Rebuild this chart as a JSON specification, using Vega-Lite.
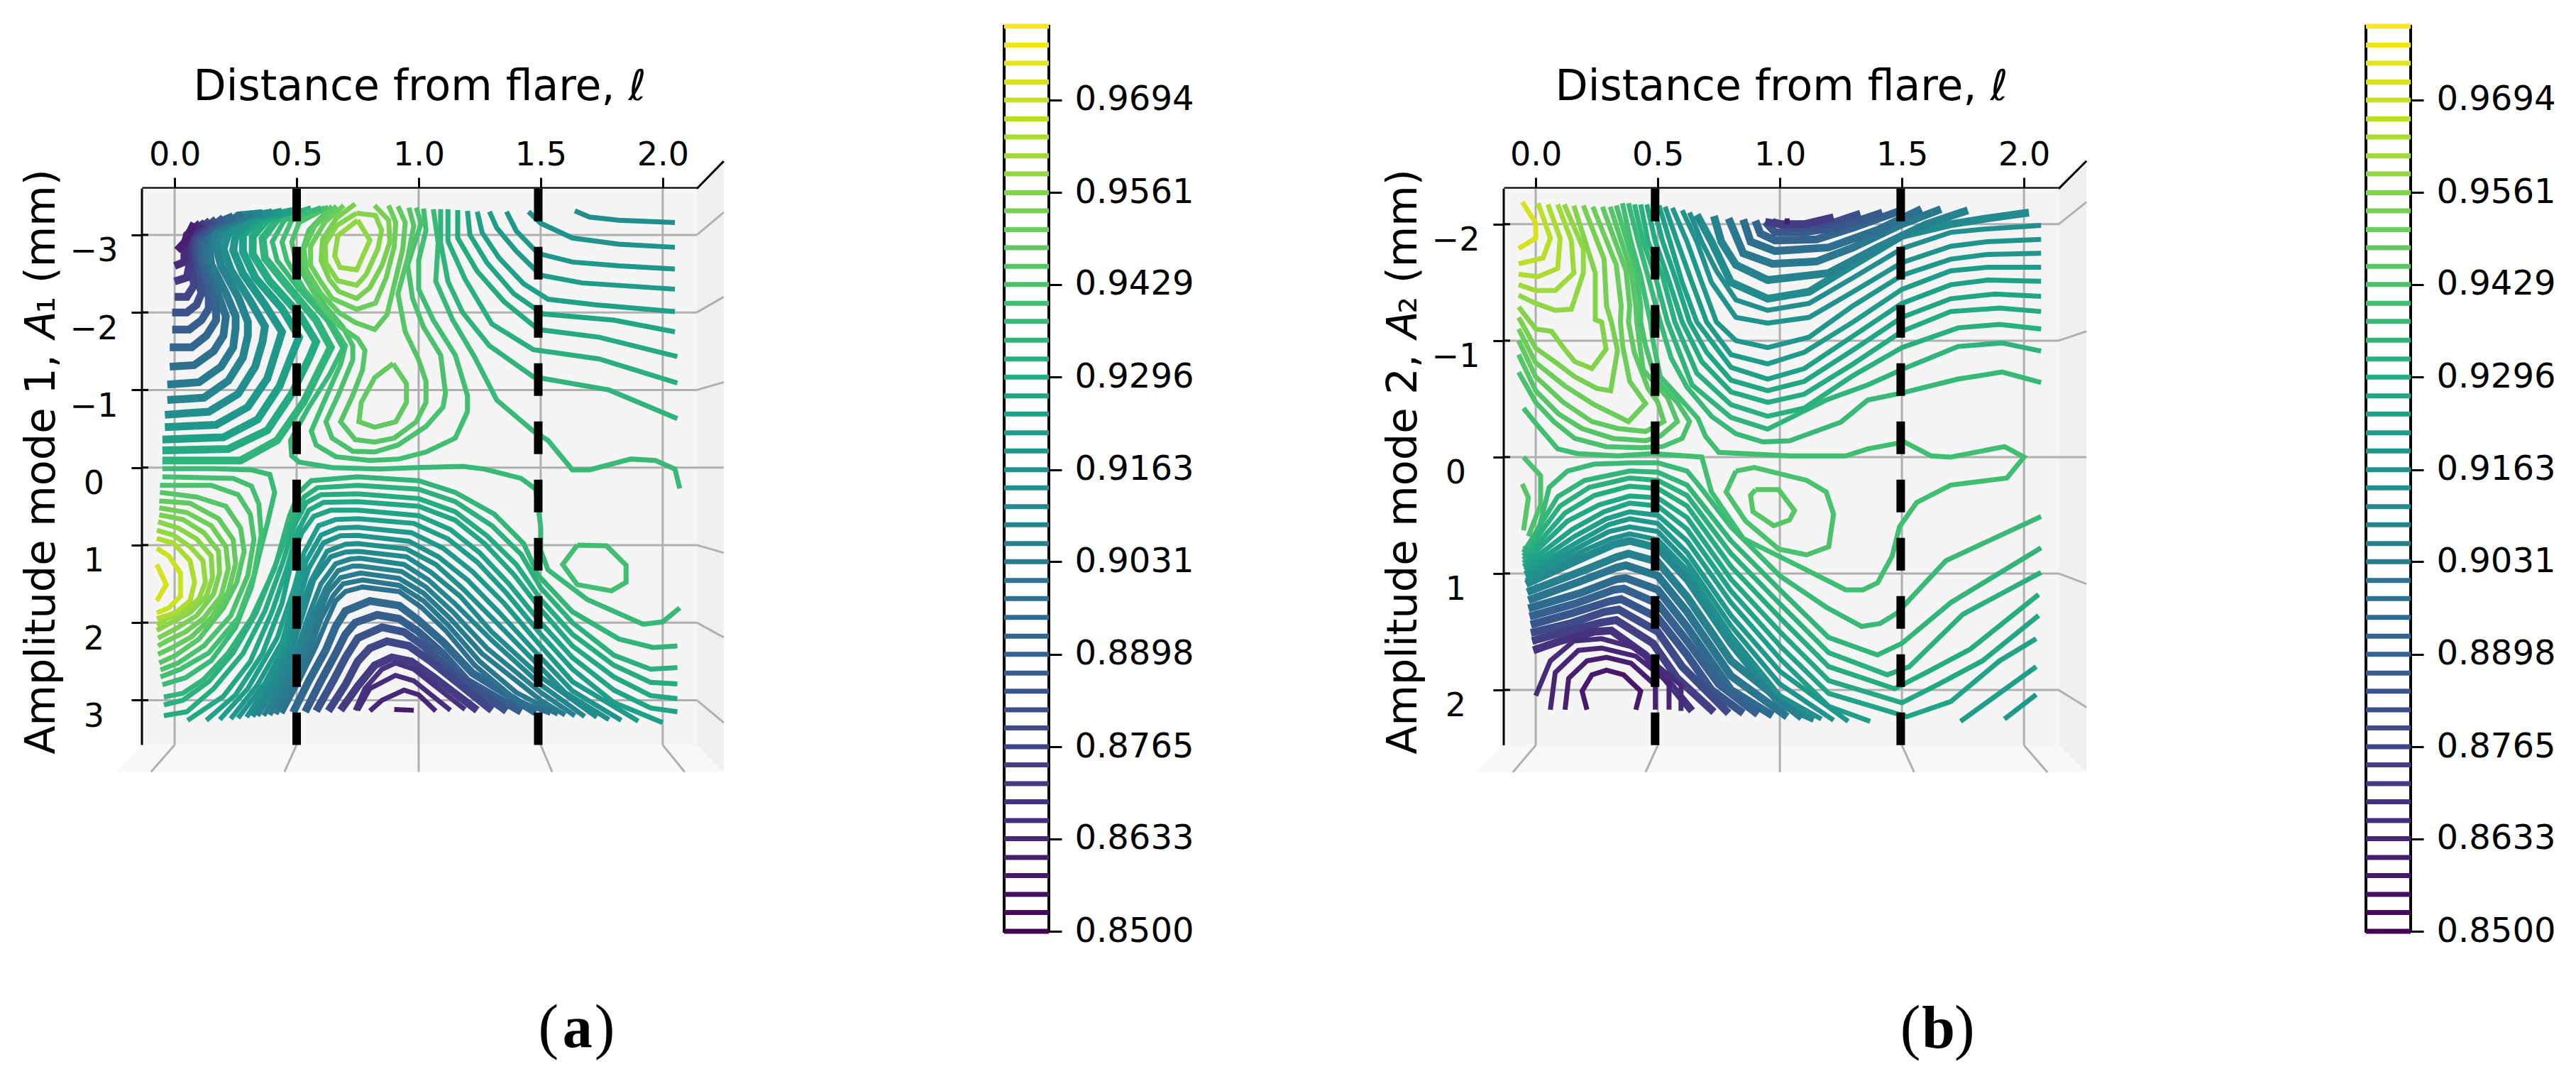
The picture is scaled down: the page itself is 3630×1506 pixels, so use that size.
{"$schema":"https://vega.github.io/schema/vega-lite/v6.json","background":"white","padding":{"left":29,"top":31,"right":0,"bottom":0},"bounds":"flush","spacing":0,"resolve":{"scale":{"color":"independent"}},
"config":{"view":{"stroke":null},"font":"DejaVu Sans","axis":{"grid":false,"labelFont":"DejaVu Sans","titleFont":"DejaVu Sans","labelColor":"black","titleColor":"black","domainColor":"black","tickColor":"black"}},
"datasets":{"levels":[{"l":0.85},{"l":0.8527},{"l":0.8553},{"l":0.858},{"l":0.8606},{"l":0.8633},{"l":0.8659},{"l":0.8686},{"l":0.8712},{"l":0.8739},{"l":0.8765},{"l":0.8792},{"l":0.8818},{"l":0.8845},{"l":0.8871},{"l":0.8898},{"l":0.8924},{"l":0.8951},{"l":0.8978},{"l":0.9004},{"l":0.9031},{"l":0.9057},{"l":0.9084},{"l":0.911},{"l":0.9137},{"l":0.9163},{"l":0.919},{"l":0.9216},{"l":0.9243},{"l":0.9269},{"l":0.9296},{"l":0.9322},{"l":0.9349},{"l":0.9376},{"l":0.9402},{"l":0.9429},{"l":0.9455},{"l":0.9482},{"l":0.9508},{"l":0.9535},{"l":0.9561},{"l":0.9588},{"l":0.9614},{"l":0.9641},{"l":0.9667},{"l":0.9694},{"l":0.972},{"l":0.9747},{"l":0.9773},{"l":0.98}],
"aThick":[
{"i":32,"x":-0.05,"y":-0.09},{"i":32,"x":0.27,"y":-0.09},{"i":32,"x":0.42,"y":-0.35},{"i":32,"x":0.53,"y":-0.85},{"i":32,"x":0.6,"y":-1.3},{"i":32,"x":0.64,"y":-1.55},{"i":32,"x":0.58,"y":-1.9},{"i":32,"x":0.46,"y":-2.35},{"i":32,"x":0.37,"y":-2.7},{"i":32,"x":0.36,"y":-2.95},{"i":32,"x":0.42,"y":-3.2},{"i":32,"x":0.56,"y":-3.33},
{"i":30,"x":-0.05,"y":-0.22},{"i":30,"x":0.22,"y":-0.24},{"i":30,"x":0.38,"y":-0.48},{"i":30,"x":0.48,"y":-0.95},{"i":30,"x":0.55,"y":-1.4},{"i":30,"x":0.58,"y":-1.62},{"i":30,"x":0.51,"y":-1.98},{"i":30,"x":0.39,"y":-2.4},{"i":30,"x":0.32,"y":-2.75},{"i":30,"x":0.32,"y":-2.98},{"i":30,"x":0.38,"y":-3.2},{"i":30,"x":0.52,"y":-3.32},
{"i":28,"x":-0.05,"y":-0.36},{"i":28,"x":0.2,"y":-0.39},{"i":28,"x":0.34,"y":-0.62},{"i":28,"x":0.43,"y":-1.05},{"i":28,"x":0.48,"y":-1.45},{"i":28,"x":0.51,"y":-1.68},{"i":28,"x":0.44,"y":-2.05},{"i":28,"x":0.33,"y":-2.45},{"i":28,"x":0.28,"y":-2.78},{"i":28,"x":0.28,"y":-3.0},{"i":28,"x":0.35,"y":-3.22},{"i":28,"x":0.485,"y":-3.31},
{"i":26,"x":-0.04,"y":-0.52},{"i":26,"x":0.17,"y":-0.55},{"i":26,"x":0.3,"y":-0.78},{"i":26,"x":0.38,"y":-1.15},{"i":26,"x":0.42,"y":-1.55},{"i":26,"x":0.44,"y":-1.75},{"i":26,"x":0.37,"y":-2.1},{"i":26,"x":0.28,"y":-2.5},{"i":26,"x":0.24,"y":-2.8},{"i":26,"x":0.25,"y":-3.0},{"i":26,"x":0.32,"y":-3.22},{"i":26,"x":0.44,"y":-3.3},
{"i":24,"x":-0.04,"y":-0.68},{"i":24,"x":0.14,"y":-0.72},{"i":24,"x":0.26,"y":-0.95},{"i":24,"x":0.33,"y":-1.3},{"i":24,"x":0.36,"y":-1.62},{"i":24,"x":0.37,"y":-1.82},{"i":24,"x":0.31,"y":-2.15},{"i":24,"x":0.23,"y":-2.55},{"i":24,"x":0.2,"y":-2.82},{"i":24,"x":0.22,"y":-3.02},{"i":24,"x":0.29,"y":-3.23},{"i":24,"x":0.4,"y":-3.29},
{"i":22,"x":-0.03,"y":-0.87},{"i":22,"x":0.12,"y":-0.9},{"i":22,"x":0.22,"y":-1.12},{"i":22,"x":0.28,"y":-1.42},{"i":22,"x":0.3,"y":-1.7},{"i":22,"x":0.3,"y":-1.88},{"i":22,"x":0.26,"y":-2.2},{"i":22,"x":0.19,"y":-2.6},{"i":22,"x":0.17,"y":-2.85},{"i":22,"x":0.19,"y":-3.05},{"i":22,"x":0.26,"y":-3.25},{"i":22,"x":0.36,"y":-3.28},
{"i":20,"x":-0.03,"y":-1.07},{"i":20,"x":0.1,"y":-1.1},{"i":20,"x":0.19,"y":-1.3},{"i":20,"x":0.24,"y":-1.55},{"i":20,"x":0.25,"y":-1.8},{"i":20,"x":0.25,"y":-1.95},{"i":20,"x":0.21,"y":-2.25},{"i":20,"x":0.15,"y":-2.62},{"i":20,"x":0.14,"y":-2.88},{"i":20,"x":0.17,"y":-3.08},{"i":20,"x":0.32,"y":-3.27},
{"i":18,"x":-0.02,"y":-1.3},{"i":18,"x":0.08,"y":-1.32},{"i":18,"x":0.16,"y":-1.5},{"i":18,"x":0.2,"y":-1.7},{"i":18,"x":0.21,"y":-1.95},{"i":18,"x":0.17,"y":-2.3},{"i":18,"x":0.12,"y":-2.65},{"i":18,"x":0.12,"y":-2.9},{"i":18,"x":0.15,"y":-3.1},{"i":18,"x":0.28,"y":-3.26},
{"i":16,"x":-0.02,"y":-1.55},{"i":16,"x":0.07,"y":-1.55},{"i":16,"x":0.13,"y":-1.7},{"i":16,"x":0.17,"y":-1.9},{"i":16,"x":0.17,"y":-2.1},{"i":16,"x":0.14,"y":-2.35},{"i":16,"x":0.1,"y":-2.68},{"i":16,"x":0.1,"y":-2.92},{"i":16,"x":0.13,"y":-3.1},{"i":16,"x":0.24,"y":-3.24},
{"i":14,"x":-0.01,"y":-1.78},{"i":14,"x":0.06,"y":-1.78},{"i":14,"x":0.11,"y":-1.9},{"i":14,"x":0.14,"y":-2.05},{"i":14,"x":0.14,"y":-2.2},{"i":14,"x":0.11,"y":-2.45},{"i":14,"x":0.08,"y":-2.72},{"i":14,"x":0.09,"y":-2.95},{"i":14,"x":0.2,"y":-3.22},
{"i":12,"x":-0.01,"y":-2.0},{"i":12,"x":0.05,"y":-2.0},{"i":12,"x":0.09,"y":-2.1},{"i":12,"x":0.11,"y":-2.25},{"i":12,"x":0.09,"y":-2.5},{"i":12,"x":0.07,"y":-2.75},{"i":12,"x":0.08,"y":-2.97},{"i":12,"x":0.17,"y":-3.2},
{"i":10,"x":0,"y":-2.2},{"i":10,"x":0.05,"y":-2.2},{"i":10,"x":0.08,"y":-2.35},{"i":10,"x":0.07,"y":-2.55},{"i":10,"x":0.06,"y":-2.78},{"i":10,"x":0.07,"y":-3.0},{"i":10,"x":0.145,"y":-3.18},
{"i":8,"x":0,"y":-2.4},{"i":8,"x":0.05,"y":-2.45},{"i":8,"x":0.06,"y":-2.6},{"i":8,"x":0.05,"y":-2.82},{"i":8,"x":0.06,"y":-3.0},{"i":8,"x":0.125,"y":-3.16},
{"i":6,"x":0,"y":-2.6},{"i":6,"x":0.04,"y":-2.65},{"i":6,"x":0.04,"y":-2.85},{"i":6,"x":0.05,"y":-3.0},{"i":6,"x":0.105,"y":-3.15},
{"i":4,"x":0.01,"y":-2.8},{"i":4,"x":0.04,"y":-2.9},{"i":4,"x":0.08,"y":-3.15},
{"i":16.3,"x":0.485,"y":3.16},{"i":16.3,"x":0.55,"y":2.75},{"i":16.3,"x":0.62,"y":2.35},{"i":16.3,"x":0.66,"y":2.05},{"i":16.3,"x":0.7,"y":1.85},{"i":16.3,"x":0.8,"y":1.72},{"i":16.3,"x":0.92,"y":1.78},{"i":16.3,"x":1.0,"y":1.97},{"i":16.3,"x":1.1,"y":2.25},{"i":16.3,"x":1.22,"y":2.65},{"i":16.3,"x":1.48,"y":3.16},
{"i":14.3,"x":0.535,"y":3.15},{"i":14.3,"x":0.6,"y":2.75},{"i":14.3,"x":0.66,"y":2.4},{"i":14.3,"x":0.7,"y":2.15},{"i":14.3,"x":0.74,"y":2.0},{"i":14.3,"x":0.83,"y":1.9},{"i":14.3,"x":0.92,"y":1.95},{"i":14.3,"x":1.0,"y":2.12},{"i":14.3,"x":1.1,"y":2.4},{"i":14.3,"x":1.2,"y":2.75},{"i":14.3,"x":1.42,"y":3.15},
{"i":12.3,"x":0.58,"y":3.14},{"i":12.3,"x":0.65,"y":2.75},{"i":12.3,"x":0.7,"y":2.45},{"i":12.3,"x":0.75,"y":2.2},{"i":12.3,"x":0.85,"y":2.06},{"i":12.3,"x":0.94,"y":2.12},{"i":12.3,"x":1.02,"y":2.3},{"i":12.3,"x":1.12,"y":2.6},{"i":12.3,"x":1.36,"y":3.14},
{"i":10.3,"x":0.63,"y":3.14},{"i":10.3,"x":0.7,"y":2.8},{"i":10.3,"x":0.75,"y":2.5},{"i":10.3,"x":0.8,"y":2.33},{"i":10.3,"x":0.87,"y":2.24},{"i":10.3,"x":0.96,"y":2.3},{"i":10.3,"x":1.05,"y":2.5},{"i":10.3,"x":1.3,"y":3.13},
{"i":8.3,"x":0.68,"y":3.13},{"i":8.3,"x":0.75,"y":2.82},{"i":8.3,"x":0.82,"y":2.55},{"i":8.3,"x":0.89,"y":2.45},{"i":8.3,"x":0.97,"y":2.5},{"i":8.3,"x":1.06,"y":2.7},{"i":8.3,"x":1.24,"y":3.13}
],
"aThin":[
{"i":24,"x":1.64,"y":-3.31},{"i":24,"x":1.7,"y":-3.23},{"i":24,"x":1.82,"y":-3.19},{"i":24,"x":2.05,"y":-3.16},
{"i":25,"x":1.45,"y":-3.3},{"i":25,"x":1.5,"y":-3.15},{"i":25,"x":1.63,"y":-2.96},{"i":25,"x":1.82,"y":-2.88},{"i":25,"x":2.05,"y":-2.84},
{"i":26,"x":1.36,"y":-3.3},{"i":26,"x":1.4,"y":-3.05},{"i":26,"x":1.49,"y":-2.76},{"i":26,"x":1.63,"y":-2.65},{"i":26,"x":1.82,"y":-2.6},{"i":26,"x":2.05,"y":-2.56},
{"i":27,"x":1.29,"y":-3.3},{"i":27,"x":1.32,"y":-3.09},{"i":27,"x":1.4,"y":-2.79},{"i":27,"x":1.5,"y":-2.48},{"i":27,"x":1.67,"y":-2.38},{"i":27,"x":2.05,"y":-2.3},
{"i":28,"x":1.24,"y":-3.3},{"i":28,"x":1.26,"y":-3.03},{"i":28,"x":1.33,"y":-2.7},{"i":28,"x":1.43,"y":-2.37},{"i":28,"x":1.53,"y":-2.17},{"i":28,"x":1.72,"y":-2.1},{"i":28,"x":2.05,"y":-2.01},
{"i":29,"x":1.2,"y":-3.31},{"i":29,"x":1.21,"y":-3.0},{"i":29,"x":1.28,"y":-2.64},{"i":29,"x":1.39,"y":-2.24},{"i":29,"x":1.51,"y":-1.98},{"i":29,"x":1.8,"y":-1.9},{"i":29,"x":2.05,"y":-1.75},
{"i":30,"x":1.16,"y":-3.32},{"i":30,"x":1.16,"y":-2.96},{"i":30,"x":1.24,"y":-2.53},{"i":30,"x":1.35,"y":-2.14},{"i":30,"x":1.49,"y":-1.78},{"i":30,"x":1.74,"y":-1.68},{"i":30,"x":2.06,"y":-1.43},
{"i":31,"x":1.12,"y":-3.33},{"i":31,"x":1.12,"y":-2.92},{"i":31,"x":1.19,"y":-2.43},{"i":31,"x":1.3,"y":-1.85},{"i":31,"x":1.47,"y":-1.52},{"i":31,"x":1.74,"y":-1.4},{"i":31,"x":2.06,"y":-1.09},
{"i":32,"x":1.09,"y":-3.33},{"i":32,"x":1.09,"y":-2.9},{"i":32,"x":1.12,"y":-2.4},{"i":32,"x":1.18,"y":-2.0},{"i":32,"x":1.29,"y":-1.57},{"i":32,"x":1.47,"y":-1.17},{"i":32,"x":1.78,"y":-1.0},{"i":32,"x":2.06,"y":-0.63},
{"i":33,"x":1.06,"y":-3.33},{"i":33,"x":1.08,"y":-2.9},{"i":33,"x":1.07,"y":-2.4},{"i":33,"x":1.14,"y":-1.9},{"i":33,"x":1.23,"y":-1.42},{"i":33,"x":1.32,"y":-0.87},{"i":33,"x":1.47,"y":-0.47},{"i":33,"x":1.53,"y":-0.35},{"i":33,"x":1.63,"y":0.03},{"i":33,"x":1.7,"y":0.03},{"i":33,"x":1.87,"y":-0.11},{"i":33,"x":1.97,"y":-0.09},{"i":33,"x":2.05,"y":0.02},{"i":33,"x":2.07,"y":0.27},
{"i":34,"x":1.02,"y":-3.34},{"i":34,"x":1.03,"y":-3.06},{"i":34,"x":1.0,"y":-2.67},{"i":34,"x":1.0,"y":-2.3},{"i":34,"x":1.06,"y":-1.9},{"i":34,"x":1.15,"y":-1.45},{"i":34,"x":1.2,"y":-0.93},{"i":34,"x":1.2,"y":-0.72},{"i":34,"x":1.15,"y":-0.38},{"i":34,"x":1.03,"y":-0.2},{"i":34,"x":0.92,"y":-0.11},{"i":34,"x":0.8,"y":-0.09},{"i":34,"x":0.66,"y":-0.14},{"i":34,"x":0.58,"y":-0.29},{"i":34,"x":0.56,"y":-0.47},{"i":34,"x":0.615,"y":-0.87},{"i":34,"x":0.68,"y":-1.33},{"i":34,"x":0.7,"y":-1.57},{"i":34,"x":0.635,"y":-1.9},{"i":34,"x":0.53,"y":-2.3},{"i":34,"x":0.46,"y":-2.67},{"i":34,"x":0.44,"y":-2.91},{"i":34,"x":0.48,"y":-3.19},{"i":34,"x":0.615,"y":-3.35},
{"i":35,"x":0.99,"y":-3.35},{"i":35,"x":1.01,"y":-3.15},{"i":35,"x":0.955,"y":-2.61},{"i":35,"x":0.975,"y":-2.18},{"i":35,"x":1.02,"y":-1.81},{"i":35,"x":1.09,"y":-1.45},{"i":35,"x":1.11,"y":-0.96},{"i":35,"x":1.1,"y":-0.78},{"i":35,"x":1.03,"y":-0.53},{"i":35,"x":0.915,"y":-0.29},{"i":35,"x":0.82,"y":-0.2},{"i":35,"x":0.73,"y":-0.21},{"i":35,"x":0.645,"y":-0.38},{"i":35,"x":0.62,"y":-0.59},{"i":35,"x":0.67,"y":-0.93},{"i":35,"x":0.73,"y":-1.39},{"i":35,"x":0.73,"y":-1.57},{"i":35,"x":0.69,"y":-1.81},{"i":35,"x":0.615,"y":-2.09},{"i":35,"x":0.5,"y":-2.61},{"i":35,"x":0.48,"y":-2.91},{"i":35,"x":0.51,"y":-3.16},{"i":35,"x":0.63,"y":-3.36},
{"i":36,"x":0.96,"y":-3.35},{"i":36,"x":0.98,"y":-3.12},{"i":36,"x":0.955,"y":-2.7},{"i":36,"x":0.915,"y":-2.24},{"i":36,"x":0.945,"y":-1.75},{"i":36,"x":1.0,"y":-1.39},{"i":36,"x":1.03,"y":-1.11},{"i":36,"x":1.03,"y":-0.84},{"i":36,"x":0.99,"y":-0.59},{"i":36,"x":0.9,"y":-0.38},{"i":36,"x":0.82,"y":-0.33},{"i":36,"x":0.74,"y":-0.36},{"i":36,"x":0.68,"y":-0.59},{"i":36,"x":0.73,"y":-0.93},{"i":36,"x":0.77,"y":-1.26},{"i":36,"x":0.78,"y":-1.51},{"i":36,"x":0.75,"y":-1.66},{"i":36,"x":0.68,"y":-1.81},{"i":36,"x":0.6,"y":-2.09},{"i":36,"x":0.53,"y":-2.48},{"i":36,"x":0.52,"y":-2.76},{"i":36,"x":0.55,"y":-3.06},{"i":36,"x":0.645,"y":-3.37},
{"i":37.1,"x":0.895,"y":-1.34},{"i":37.1,"x":0.95,"y":-1.08},{"i":37.1,"x":0.95,"y":-0.84},{"i":37.1,"x":0.906,"y":-0.59},{"i":37.1,"x":0.82,"y":-0.52},{"i":37.1,"x":0.755,"y":-0.59},{"i":37.1,"x":0.765,"y":-0.84},{"i":37.1,"x":0.82,"y":-1.16},{"i":37.1,"x":0.895,"y":-1.34},
{"i":37,"x":0.915,"y":-3.37},{"i":37,"x":0.945,"y":-3.16},{"i":37,"x":0.935,"y":-2.82},{"i":37,"x":0.9,"y":-2.36},{"i":37,"x":0.87,"y":-1.97},{"i":37,"x":0.82,"y":-1.78},{"i":37,"x":0.74,"y":-1.87},{"i":37,"x":0.673,"y":-2.0},{"i":37,"x":0.6,"y":-2.24},{"i":37,"x":0.54,"y":-2.55},{"i":37,"x":0.53,"y":-2.82},{"i":37,"x":0.575,"y":-3.12},{"i":37,"x":0.664,"y":-3.37},
{"i":38,"x":0.877,"y":-3.38},{"i":38,"x":0.906,"y":-3.16},{"i":38,"x":0.9,"y":-2.85},{"i":38,"x":0.867,"y":-2.45},{"i":38,"x":0.823,"y":-2.12},{"i":38,"x":0.746,"y":-2.04},{"i":38,"x":0.645,"y":-2.18},{"i":38,"x":0.6,"y":-2.39},{"i":38,"x":0.557,"y":-2.61},{"i":38,"x":0.557,"y":-2.85},{"i":38,"x":0.615,"y":-3.16},{"i":38,"x":0.693,"y":-3.38},
{"i":39,"x":0.819,"y":-3.38},{"i":39,"x":0.877,"y":-3.19},{"i":39,"x":0.882,"y":-2.91},{"i":39,"x":0.85,"y":-2.61},{"i":39,"x":0.8,"y":-2.32},{"i":39,"x":0.746,"y":-2.18},{"i":39,"x":0.673,"y":-2.27},{"i":39,"x":0.635,"y":-2.42},{"i":39,"x":0.6,"y":-2.67},{"i":39,"x":0.606,"y":-2.94},{"i":39,"x":0.664,"y":-3.22},{"i":39,"x":0.74,"y":-3.4},
{"i":40,"x":0.746,"y":-3.28},{"i":40,"x":0.823,"y":-3.25},{"i":40,"x":0.848,"y":-3.06},{"i":40,"x":0.833,"y":-2.82},{"i":40,"x":0.785,"y":-2.49},{"i":40,"x":0.746,"y":-2.35},{"i":40,"x":0.668,"y":-2.41},{"i":40,"x":0.62,"y":-2.64},{"i":40,"x":0.617,"y":-2.88},{"i":40,"x":0.664,"y":-3.12},{"i":40,"x":0.746,"y":-3.28},
{"i":41,"x":0.75,"y":-3.19},{"i":41,"x":0.8,"y":-2.93},{"i":41,"x":0.746,"y":-2.55},{"i":41,"x":0.678,"y":-2.58},{"i":41,"x":0.656,"y":-2.73},{"i":41,"x":0.669,"y":-2.99},{"i":41,"x":0.75,"y":-3.19},
{"i":33.1,"x":0.6,"y":-3.35},{"i":33.1,"x":0.45,"y":-3.19},{"i":33.1,"x":0.4,"y":-2.91},{"i":33.1,"x":0.42,"y":-2.67},{"i":33.1,"x":0.51,"y":-2.3},{"i":33.1,"x":0.625,"y":-1.9},{"i":33.1,"x":0.69,"y":-1.54},{"i":33.1,"x":0.635,"y":-1.2},{"i":33.1,"x":0.55,"y":-0.78},{"i":33.1,"x":0.475,"y":-0.35},{"i":33.1,"x":0.48,"y":-0.15},{"i":33.1,"x":0.51,"y":-0.07},{"i":33.1,"x":0.645,"y":0},{"i":33.1,"x":0.84,"y":0.02},{"i":33.1,"x":0.99,"y":0},{"i":33.1,"x":1.18,"y":-0.015},{"i":33.1,"x":1.27,"y":0.02},{"i":33.1,"x":1.42,"y":0.14},{"i":33.1,"x":1.48,"y":0.28},{"i":33.1,"x":1.5,"y":0.76},{"i":33.1,"x":1.5,"y":1.07},{"i":33.1,"x":1.53,"y":1.32},{"i":33.1,"x":1.69,"y":1.7},{"i":33.1,"x":1.92,"y":2.02},{"i":33.1,"x":2.0,"y":1.99},{"i":33.1,"x":2.07,"y":1.81},
{"i":34.1,"x":1.65,"y":1.0},{"i":34.1,"x":1.77,"y":1.01},{"i":34.1,"x":1.85,"y":1.26},{"i":34.1,"x":1.85,"y":1.48},{"i":34.1,"x":1.79,"y":1.59},{"i":34.1,"x":1.65,"y":1.51},{"i":34.1,"x":1.59,"y":1.25},{"i":34.1,"x":1.65,"y":1.0},
{"i":33.2,"x":-0.05,"y":0.015},{"i":33.2,"x":0.16,"y":0.015},{"i":33.2,"x":0.315,"y":0.03},{"i":33.2,"x":0.39,"y":0.09},{"i":33.2,"x":0.41,"y":0.32},{"i":33.2,"x":0.38,"y":0.72},{"i":33.2,"x":0.35,"y":1.08},{"i":33.2,"x":0.315,"y":1.54},{"i":33.2,"x":0.25,"y":2.06},{"i":33.2,"x":0.15,"y":2.49},{"i":33.2,"x":0.045,"y":2.71},{"i":33.2,"x":-0.05,"y":2.8},
{"i":34.2,"x":-0.05,"y":0.12},{"i":34.2,"x":0.24,"y":0.14},{"i":34.2,"x":0.315,"y":0.24},{"i":34.2,"x":0.345,"y":0.47},{"i":34.2,"x":0.355,"y":0.87},{"i":34.2,"x":0.325,"y":1.39},{"i":34.2,"x":0.26,"y":1.94},{"i":34.2,"x":0.14,"y":2.39},{"i":34.2,"x":0.024,"y":2.6},{"i":34.2,"x":-0.058,"y":2.7},
{"i":35.2,"x":-0.06,"y":0.23},{"i":35.2,"x":0.15,"y":0.23},{"i":35.2,"x":0.26,"y":0.35},{"i":35.2,"x":0.31,"y":0.6},{"i":35.2,"x":0.325,"y":0.93},{"i":35.2,"x":0.3,"y":1.39},{"i":35.2,"x":0.23,"y":1.91},{"i":35.2,"x":0.12,"y":2.3},{"i":35.2,"x":0.015,"y":2.52},{"i":35.2,"x":-0.058,"y":2.61},
{"i":36.2,"x":-0.06,"y":0.32},{"i":36.2,"x":0.09,"y":0.38},{"i":36.2,"x":0.21,"y":0.5},{"i":36.2,"x":0.27,"y":0.78},{"i":36.2,"x":0.285,"y":1.08},{"i":36.2,"x":0.255,"y":1.48},{"i":36.2,"x":0.2,"y":1.81},{"i":36.2,"x":0.1,"y":2.21},{"i":36.2,"x":0.005,"y":2.42},{"i":36.2,"x":-0.063,"y":2.52},
{"i":37.2,"x":-0.063,"y":0.43},{"i":37.2,"x":0.063,"y":0.46},{"i":37.2,"x":0.18,"y":0.66},{"i":37.2,"x":0.24,"y":0.93},{"i":37.2,"x":0.25,"y":1.24},{"i":37.2,"x":0.22,"y":1.6},{"i":37.2,"x":0.15,"y":1.94},{"i":37.2,"x":0.07,"y":2.18},{"i":37.2,"x":-0.015,"y":2.33},{"i":37.2,"x":-0.068,"y":2.41},
{"i":38.2,"x":-0.063,"y":0.52},{"i":38.2,"x":0.05,"y":0.58},{"i":38.2,"x":0.15,"y":0.75},{"i":38.2,"x":0.21,"y":1.02},{"i":38.2,"x":0.22,"y":1.3},{"i":38.2,"x":0.19,"y":1.66},{"i":38.2,"x":0.12,"y":1.94},{"i":38.2,"x":0.044,"y":2.12},{"i":38.2,"x":-0.034,"y":2.24},{"i":38.2,"x":-0.068,"y":2.3},
{"i":39.2,"x":-0.063,"y":0.61},{"i":39.2,"x":0.034,"y":0.67},{"i":39.2,"x":0.12,"y":0.84},{"i":39.2,"x":0.18,"y":1.08},{"i":39.2,"x":0.184,"y":1.36},{"i":39.2,"x":0.16,"y":1.63},{"i":39.2,"x":0.09,"y":1.91},{"i":39.2,"x":0.015,"y":2.06},{"i":39.2,"x":-0.068,"y":2.2},
{"i":40.2,"x":-0.068,"y":0.7},{"i":40.2,"x":0.015,"y":0.78},{"i":40.2,"x":0.09,"y":0.92},{"i":40.2,"x":0.15,"y":1.14},{"i":40.2,"x":0.155,"y":1.42},{"i":40.2,"x":0.13,"y":1.66},{"i":40.2,"x":0.063,"y":1.87},{"i":40.2,"x":-0.015,"y":2.0},{"i":40.2,"x":-0.073,"y":2.1},
{"i":41.2,"x":-0.073,"y":0.81},{"i":41.2,"x":-0.005,"y":0.87},{"i":41.2,"x":0.063,"y":1.02},{"i":41.2,"x":0.116,"y":1.2},{"i":41.2,"x":0.126,"y":1.48},{"i":41.2,"x":0.1,"y":1.69},{"i":41.2,"x":0.043,"y":1.85},{"i":41.2,"x":-0.034,"y":1.95},{"i":41.2,"x":-0.073,"y":2.03},
{"i":43,"x":-0.073,"y":0.915},{"i":43,"x":-0.005,"y":0.975},{"i":43,"x":0.063,"y":1.2},{"i":43,"x":0.082,"y":1.48},{"i":43,"x":0.063,"y":1.72},{"i":43,"x":0.005,"y":1.87},{"i":43,"x":-0.073,"y":1.95},
{"i":45,"x":-0.073,"y":1.04},{"i":45,"x":-0.024,"y":1.14},{"i":45,"x":0.024,"y":1.36},{"i":45,"x":0.024,"y":1.66},{"i":45,"x":-0.024,"y":1.81},{"i":45,"x":-0.073,"y":1.875},
{"i":46,"x":-0.073,"y":1.25},{"i":46,"x":-0.034,"y":1.51},{"i":46,"x":-0.073,"y":1.72},
{"i":32.3,"x":-0.044,"y":2.96},{"i":32.3,"x":0.034,"y":2.91},{"i":32.3,"x":0.12,"y":2.73},{"i":32.3,"x":0.22,"y":2.39},{"i":32.3,"x":0.315,"y":1.94},{"i":32.3,"x":0.41,"y":1.3},{"i":32.3,"x":0.47,"y":0.63},{"i":32.3,"x":0.51,"y":0.32},{"i":32.3,"x":0.56,"y":0.17},{"i":32.3,"x":0.75,"y":0.12},{"i":32.3,"x":1.0,"y":0.17},{"i":32.3,"x":1.15,"y":0.32},{"i":32.3,"x":1.31,"y":0.6},{"i":32.3,"x":1.43,"y":0.98},{"i":32.3,"x":1.49,"y":1.39},{"i":32.3,"x":1.63,"y":1.86},{"i":32.3,"x":1.82,"y":2.21},{"i":32.3,"x":1.96,"y":2.32},{"i":32.3,"x":2.06,"y":2.3},
{"i":31.3,"x":-0.044,"y":3.06},{"i":31.3,"x":0.034,"y":3.0},{"i":31.3,"x":0.14,"y":2.76},{"i":31.3,"x":0.24,"y":2.39},{"i":31.3,"x":0.335,"y":1.87},{"i":31.3,"x":0.42,"y":1.2},{"i":31.3,"x":0.48,"y":0.69},{"i":31.3,"x":0.53,"y":0.38},{"i":31.3,"x":0.585,"y":0.26},{"i":31.3,"x":0.75,"y":0.23},{"i":31.3,"x":1.0,"y":0.28},{"i":31.3,"x":1.15,"y":0.44},{"i":31.3,"x":1.3,"y":0.75},{"i":31.3,"x":1.42,"y":1.12},{"i":31.3,"x":1.5,"y":1.55},{"i":31.3,"x":1.63,"y":2.0},{"i":31.3,"x":1.8,"y":2.42},{"i":31.3,"x":1.95,"y":2.6},{"i":31.3,"x":2.06,"y":2.58},
{"i":30.3,"x":-0.044,"y":3.2},{"i":30.3,"x":0.05,"y":3.15},{"i":30.3,"x":0.16,"y":2.85},{"i":30.3,"x":0.28,"y":2.4},{"i":30.3,"x":0.37,"y":1.85},{"i":30.3,"x":0.44,"y":1.25},{"i":30.3,"x":0.49,"y":0.75},{"i":30.3,"x":0.54,"y":0.45},{"i":30.3,"x":0.6,"y":0.35},{"i":30.3,"x":0.75,"y":0.34},{"i":30.3,"x":1.0,"y":0.4},{"i":30.3,"x":1.15,"y":0.57},{"i":30.3,"x":1.28,"y":0.88},{"i":30.3,"x":1.4,"y":1.25},{"i":30.3,"x":1.5,"y":1.7},{"i":30.3,"x":1.63,"y":2.15},{"i":30.3,"x":1.8,"y":2.55},{"i":30.3,"x":1.95,"y":2.77},{"i":30.3,"x":2.06,"y":2.79},
{"i":29.3,"x":0.053,"y":3.26},{"i":29.3,"x":0.2,"y":2.95},{"i":29.3,"x":0.31,"y":2.5},{"i":29.3,"x":0.4,"y":1.85},{"i":29.3,"x":0.46,"y":1.3},{"i":29.3,"x":0.5,"y":0.85},{"i":29.3,"x":0.55,"y":0.55},{"i":29.3,"x":0.61,"y":0.45},{"i":29.3,"x":0.75,"y":0.44},{"i":29.3,"x":1.0,"y":0.5},{"i":29.3,"x":1.15,"y":0.68},{"i":29.3,"x":1.27,"y":0.98},{"i":29.3,"x":1.39,"y":1.38},{"i":29.3,"x":1.5,"y":1.83},{"i":29.3,"x":1.63,"y":2.3},{"i":29.3,"x":1.8,"y":2.7},{"i":29.3,"x":1.95,"y":2.94},{"i":29.3,"x":2.06,"y":2.98},
{"i":28.3,"x":0.13,"y":3.26},{"i":28.3,"x":0.25,"y":2.93},{"i":28.3,"x":0.36,"y":2.4},{"i":28.3,"x":0.44,"y":1.75},{"i":28.3,"x":0.48,"y":1.2},{"i":28.3,"x":0.52,"y":0.85},{"i":28.3,"x":0.57,"y":0.63},{"i":28.3,"x":0.64,"y":0.55},{"i":28.3,"x":0.75,"y":0.55},{"i":28.3,"x":1.0,"y":0.62},{"i":28.3,"x":1.13,"y":0.8},{"i":28.3,"x":1.25,"y":1.1},{"i":28.3,"x":1.37,"y":1.5},{"i":28.3,"x":1.5,"y":2.0},{"i":28.3,"x":1.63,"y":2.45},{"i":28.3,"x":1.8,"y":2.87},{"i":28.3,"x":1.95,"y":3.1},{"i":28.3,"x":2.06,"y":3.15},
{"i":27.3,"x":0.185,"y":3.25},{"i":27.3,"x":0.3,"y":2.85},{"i":27.3,"x":0.42,"y":2.2},{"i":27.3,"x":0.49,"y":1.55},{"i":27.3,"x":0.53,"y":1.1},{"i":27.3,"x":0.59,"y":0.75},{"i":27.3,"x":0.66,"y":0.67},{"i":27.3,"x":0.75,"y":0.66},{"i":27.3,"x":0.98,"y":0.72},{"i":27.3,"x":1.12,"y":0.92},{"i":27.3,"x":1.24,"y":1.22},{"i":27.3,"x":1.36,"y":1.62},{"i":27.3,"x":1.5,"y":2.15},{"i":27.3,"x":1.63,"y":2.6},{"i":27.3,"x":1.8,"y":3.03},{"i":27.3,"x":2.0,"y":3.29},
{"i":26.3,"x":0.23,"y":3.24},{"i":26.3,"x":0.34,"y":2.8},{"i":26.3,"x":0.44,"y":2.25},{"i":26.3,"x":0.5,"y":1.6},{"i":26.3,"x":0.54,"y":1.2},{"i":26.3,"x":0.6,"y":0.87},{"i":26.3,"x":0.67,"y":0.78},{"i":26.3,"x":0.75,"y":0.77},{"i":26.3,"x":0.97,"y":0.84},{"i":26.3,"x":1.1,"y":1.04},{"i":26.3,"x":1.22,"y":1.34},{"i":26.3,"x":1.35,"y":1.75},{"i":26.3,"x":1.5,"y":2.3},{"i":26.3,"x":1.63,"y":2.76},{"i":26.3,"x":1.9,"y":3.27},
{"i":25.3,"x":0.26,"y":3.23},{"i":25.3,"x":0.37,"y":2.78},{"i":25.3,"x":0.46,"y":2.25},{"i":25.3,"x":0.51,"y":1.7},{"i":25.3,"x":0.55,"y":1.3},{"i":25.3,"x":0.61,"y":0.97},{"i":25.3,"x":0.68,"y":0.88},{"i":25.3,"x":0.75,"y":0.875},{"i":25.3,"x":0.96,"y":0.95},{"i":25.3,"x":1.08,"y":1.15},{"i":25.3,"x":1.2,"y":1.45},{"i":25.3,"x":1.33,"y":1.87},{"i":25.3,"x":1.5,"y":2.45},{"i":25.3,"x":1.63,"y":2.88},{"i":25.3,"x":1.83,"y":3.26},
{"i":24.3,"x":0.295,"y":3.22},{"i":24.3,"x":0.39,"y":2.76},{"i":24.3,"x":0.47,"y":2.3},{"i":24.3,"x":0.51,"y":1.85},{"i":24.3,"x":0.56,"y":1.45},{"i":24.3,"x":0.625,"y":1.08},{"i":24.3,"x":0.7,"y":0.99},{"i":24.3,"x":0.75,"y":0.98},{"i":24.3,"x":0.95,"y":1.05},{"i":24.3,"x":1.07,"y":1.25},{"i":24.3,"x":1.18,"y":1.56},{"i":24.3,"x":1.32,"y":2.0},{"i":24.3,"x":1.5,"y":2.58},{"i":24.3,"x":1.6,"y":2.9},{"i":24.3,"x":1.78,"y":3.25},
{"i":23.3,"x":0.32,"y":3.21},{"i":23.3,"x":0.41,"y":2.75},{"i":23.3,"x":0.48,"y":2.35},{"i":23.3,"x":0.53,"y":1.85},{"i":23.3,"x":0.57,"y":1.45},{"i":23.3,"x":0.64,"y":1.15},{"i":23.3,"x":0.7,"y":1.09},{"i":23.3,"x":0.75,"y":1.08},{"i":23.3,"x":0.95,"y":1.15},{"i":23.3,"x":1.05,"y":1.35},{"i":23.3,"x":1.17,"y":1.66},{"i":23.3,"x":1.3,"y":2.12},{"i":23.3,"x":1.5,"y":2.7},{"i":23.3,"x":1.73,"y":3.22},
{"i":22.3,"x":0.34,"y":3.2},{"i":22.3,"x":0.43,"y":2.75},{"i":22.3,"x":0.5,"y":2.35},{"i":22.3,"x":0.55,"y":1.9},{"i":22.3,"x":0.6,"y":1.5},{"i":22.3,"x":0.66,"y":1.24},{"i":22.3,"x":0.72,"y":1.18},{"i":22.3,"x":0.76,"y":1.17},{"i":22.3,"x":0.94,"y":1.25},{"i":22.3,"x":1.04,"y":1.45},{"i":22.3,"x":1.15,"y":1.76},{"i":22.3,"x":1.3,"y":2.23},{"i":22.3,"x":1.5,"y":2.8},{"i":22.3,"x":1.68,"y":3.21},
{"i":21.3,"x":0.365,"y":3.2},{"i":21.3,"x":0.45,"y":2.75},{"i":21.3,"x":0.52,"y":2.3},{"i":21.3,"x":0.57,"y":1.9},{"i":21.3,"x":0.62,"y":1.55},{"i":21.3,"x":0.67,"y":1.33},{"i":21.3,"x":0.73,"y":1.27},{"i":21.3,"x":0.76,"y":1.27},{"i":21.3,"x":0.93,"y":1.34},{"i":21.3,"x":1.03,"y":1.54},{"i":21.3,"x":1.14,"y":1.86},{"i":21.3,"x":1.28,"y":2.33},{"i":21.3,"x":1.5,"y":2.9},{"i":21.3,"x":1.64,"y":3.2},
{"i":20.3,"x":0.39,"y":3.19},{"i":20.3,"x":0.47,"y":2.75},{"i":20.3,"x":0.54,"y":2.3},{"i":20.3,"x":0.59,"y":1.9},{"i":20.3,"x":0.63,"y":1.6},{"i":20.3,"x":0.68,"y":1.42},{"i":20.3,"x":0.76,"y":1.36},{"i":20.3,"x":0.92,"y":1.43},{"i":20.3,"x":1.02,"y":1.62},{"i":20.3,"x":1.13,"y":1.95},{"i":20.3,"x":1.26,"y":2.4},{"i":20.3,"x":1.5,"y":3.0},{"i":20.3,"x":1.6,"y":3.19},
{"i":19.3,"x":0.415,"y":3.18},{"i":19.3,"x":0.49,"y":2.75},{"i":19.3,"x":0.56,"y":2.3},{"i":19.3,"x":0.6,"y":1.95},{"i":19.3,"x":0.65,"y":1.65},{"i":19.3,"x":0.69,"y":1.5},{"i":19.3,"x":0.77,"y":1.45},{"i":19.3,"x":0.92,"y":1.52},{"i":19.3,"x":1.02,"y":1.72},{"i":19.3,"x":1.12,"y":2.03},{"i":19.3,"x":1.25,"y":2.5},{"i":19.3,"x":1.4,"y":2.9},{"i":19.3,"x":1.57,"y":3.18},
{"i":18.3,"x":0.44,"y":3.17},{"i":18.3,"x":0.51,"y":2.75},{"i":18.3,"x":0.58,"y":2.3},{"i":18.3,"x":0.62,"y":2.0},{"i":18.3,"x":0.66,"y":1.72},{"i":18.3,"x":0.7,"y":1.6},{"i":18.3,"x":0.77,"y":1.54},{"i":18.3,"x":0.92,"y":1.6},{"i":18.3,"x":1.01,"y":1.8},{"i":18.3,"x":1.11,"y":2.1},{"i":18.3,"x":1.23,"y":2.55},{"i":18.3,"x":1.4,"y":3.0},{"i":18.3,"x":1.54,"y":3.17},
{"i":7.3,"x":0.74,"y":3.13},{"i":7.3,"x":0.78,"y":2.85},{"i":7.3,"x":0.85,"y":2.6},{"i":7.3,"x":0.905,"y":2.52},{"i":7.3,"x":0.98,"y":2.6},{"i":7.3,"x":1.19,"y":3.12},
{"i":6.3,"x":0.75,"y":3.13},{"i":6.3,"x":0.8,"y":2.85},{"i":6.3,"x":0.905,"y":2.68},{"i":6.3,"x":0.98,"y":2.75},{"i":6.3,"x":1.13,"y":3.13},
{"i":5.3,"x":0.8,"y":3.14},{"i":5.3,"x":0.85,"y":3.0},{"i":5.3,"x":0.94,"y":2.87},{"i":5.3,"x":1.0,"y":2.93},{"i":5.3,"x":1.07,"y":3.14},
{"i":3.3,"x":0.9,"y":3.12},{"i":3.3,"x":0.98,"y":3.13}
],
"bThick":[
{"i":23,"x":-0.04,"y":1.09},{"i":23,"x":0.2,"y":0.86},{"i":23,"x":0.32,"y":0.75},{"i":23,"x":0.385,"y":0.72},{"i":23,"x":0.5,"y":0.78},{"i":23,"x":0.62,"y":1.05},{"i":23,"x":0.8,"y":1.6},{"i":23,"x":1.0,"y":2.12},{"i":23,"x":1.14,"y":2.25},
{"i":21,"x":-0.035,"y":1.16},{"i":21,"x":0.2,"y":0.97},{"i":21,"x":0.33,"y":0.86},{"i":21,"x":0.38,"y":0.83},{"i":21,"x":0.5,"y":0.9},{"i":21,"x":0.62,"y":1.2},{"i":21,"x":0.8,"y":1.75},{"i":21,"x":1.09,"y":2.24},
{"i":19,"x":-0.03,"y":1.23},{"i":19,"x":0.18,"y":1.07},{"i":19,"x":0.33,"y":0.95},{"i":19,"x":0.37,"y":0.93},{"i":19,"x":0.5,"y":1.02},{"i":19,"x":0.62,"y":1.33},{"i":19,"x":0.8,"y":1.88},{"i":19,"x":1.03,"y":2.23},
{"i":17,"x":-0.03,"y":1.3},{"i":17,"x":0.18,"y":1.17},{"i":17,"x":0.33,"y":1.05},{"i":17,"x":0.37,"y":1.04},{"i":17,"x":0.5,"y":1.14},{"i":17,"x":0.62,"y":1.46},{"i":17,"x":0.8,"y":2.0},{"i":17,"x":0.97,"y":2.22},
{"i":15,"x":-0.025,"y":1.37},{"i":15,"x":0.16,"y":1.26},{"i":15,"x":0.32,"y":1.14},{"i":15,"x":0.36,"y":1.13},{"i":15,"x":0.5,"y":1.26},{"i":15,"x":0.62,"y":1.58},{"i":15,"x":0.75,"y":1.95},{"i":15,"x":0.91,"y":2.21},
{"i":13,"x":-0.02,"y":1.44},{"i":13,"x":0.15,"y":1.34},{"i":13,"x":0.3,"y":1.24},{"i":13,"x":0.35,"y":1.22},{"i":13,"x":0.5,"y":1.38},{"i":13,"x":0.62,"y":1.7},{"i":13,"x":0.72,"y":2.0},{"i":13,"x":0.85,"y":2.2},
{"i":11,"x":-0.02,"y":1.51},{"i":11,"x":0.14,"y":1.43},{"i":11,"x":0.28,"y":1.33},{"i":11,"x":0.34,"y":1.31},{"i":11,"x":0.5,"y":1.5},{"i":11,"x":0.6,"y":1.8},{"i":11,"x":0.79,"y":2.2},
{"i":9,"x":-0.015,"y":1.58},{"i":9,"x":0.12,"y":1.5},{"i":9,"x":0.27,"y":1.42},{"i":9,"x":0.33,"y":1.4},{"i":9,"x":0.48,"y":1.6},{"i":9,"x":0.58,"y":1.9},{"i":9,"x":0.73,"y":2.19},
{"i":7,"x":-0.01,"y":1.66},{"i":7,"x":0.1,"y":1.58},{"i":7,"x":0.24,"y":1.5},{"i":7,"x":0.31,"y":1.49},{"i":7,"x":0.45,"y":1.7},{"i":7,"x":0.55,"y":1.95},{"i":7,"x":0.64,"y":2.18},
{"i":23.5,"x":2.02,"y":-2.1},{"i":23.5,"x":1.85,"y":-2.05},{"i":23.5,"x":1.7,"y":-2.0},{"i":23.5,"x":1.5,"y":-1.9},{"i":23.5,"x":1.3,"y":-1.65},{"i":23.5,"x":1.12,"y":-1.42},{"i":23.5,"x":0.95,"y":-1.36},{"i":23.5,"x":0.8,"y":-1.5},{"i":23.5,"x":0.72,"y":-1.85},{"i":23.5,"x":0.66,"y":-2.08},
{"i":21.5,"x":1.77,"y":-2.12},{"i":21.5,"x":1.6,"y":-2.0},{"i":21.5,"x":1.4,"y":-1.8},{"i":21.5,"x":1.2,"y":-1.58},{"i":21.5,"x":0.95,"y":-1.52},{"i":21.5,"x":0.82,"y":-1.65},{"i":21.5,"x":0.76,"y":-1.85},{"i":21.5,"x":0.73,"y":-2.07},
{"i":19.5,"x":1.66,"y":-2.13},{"i":19.5,"x":1.5,"y":-2.0},{"i":19.5,"x":1.3,"y":-1.8},{"i":19.5,"x":1.15,"y":-1.68},{"i":19.5,"x":0.97,"y":-1.66},{"i":19.5,"x":0.85,"y":-1.75},{"i":19.5,"x":0.79,"y":-2.05},
{"i":17.5,"x":1.58,"y":-2.13},{"i":17.5,"x":1.4,"y":-1.95},{"i":17.5,"x":1.2,"y":-1.8},{"i":17.5,"x":0.98,"y":-1.77},{"i":17.5,"x":0.88,"y":-1.85},{"i":17.5,"x":0.85,"y":-2.04},
{"i":15.5,"x":1.5,"y":-2.12},{"i":15.5,"x":1.3,"y":-1.97},{"i":15.5,"x":1.15,"y":-1.87},{"i":15.5,"x":0.98,"y":-1.86},{"i":15.5,"x":0.92,"y":-1.92},{"i":15.5,"x":0.9,"y":-2.03},
{"i":13.5,"x":1.42,"y":-2.1},{"i":13.5,"x":1.25,"y":-1.98},{"i":13.5,"x":1.1,"y":-1.93},{"i":13.5,"x":0.98,"y":-1.93},{"i":13.5,"x":0.94,"y":-2.02},
{"i":11.5,"x":1.33,"y":-2.09},{"i":11.5,"x":1.2,"y":-2.0},{"i":11.5,"x":1.05,"y":-1.97},{"i":11.5,"x":0.97,"y":-2.02},
{"i":8.5,"x":1.22,"y":-2.06},{"i":8.5,"x":1.1,"y":-2.0},{"i":8.5,"x":1.0,"y":-2.0},{"i":8.5,"x":0.94,"y":-2.02}
],
"bThin":[
{"i":46,"x":-0.055,"y":-2.19},{"i":46,"x":0,"y":-2.01},{"i":46,"x":0,"y":-1.88},{"i":46,"x":-0.07,"y":-1.79},
{"i":44,"x":0.01,"y":-2.18},{"i":44,"x":0.06,"y":-1.88},{"i":44,"x":0.03,"y":-1.71},{"i":44,"x":-0.07,"y":-1.66},
{"i":43,"x":0.05,"y":-2.17},{"i":43,"x":0.1,"y":-1.88},{"i":43,"x":0.09,"y":-1.62},{"i":43,"x":0.01,"y":-1.55},{"i":43,"x":-0.07,"y":-1.57},
{"i":42,"x":0.09,"y":-2.17},{"i":42,"x":0.146,"y":-1.86},{"i":42,"x":0.156,"y":-1.58},{"i":42,"x":0.08,"y":-1.43},{"i":42,"x":0,"y":-1.43},{"i":42,"x":-0.07,"y":-1.48},
{"i":41,"x":0.117,"y":-2.17},{"i":41,"x":0.195,"y":-1.79},{"i":41,"x":0.195,"y":-1.58},{"i":41,"x":0.146,"y":-1.27},{"i":41,"x":0.08,"y":-1.26},{"i":41,"x":0,"y":-1.32},{"i":41,"x":-0.07,"y":-1.39},
{"i":40,"x":0.156,"y":-2.16},{"i":40,"x":0.244,"y":-1.58},{"i":40,"x":0.244,"y":-1.18},{"i":40,"x":0.27,"y":-1.16},{"i":40,"x":0.288,"y":-0.925},{"i":40,"x":0.23,"y":-0.76},{"i":40,"x":0.16,"y":-0.82},{"i":40,"x":0.113,"y":-0.94},{"i":40,"x":0.065,"y":-1.08},{"i":40,"x":0,"y":-1.1},{"i":40,"x":-0.07,"y":-1.29},
{"i":39,"x":0.195,"y":-2.16},{"i":39,"x":0.28,"y":-1.7},{"i":39,"x":0.29,"y":-1.3},{"i":39,"x":0.31,"y":-1.16},{"i":39,"x":0.335,"y":-0.915},{"i":39,"x":0.307,"y":-0.57},{"i":39,"x":0.25,"y":-0.59},{"i":39,"x":0.16,"y":-0.69},{"i":39,"x":0.084,"y":-0.81},{"i":39,"x":0,"y":-0.935},{"i":39,"x":-0.07,"y":-1.2},
{"i":38,"x":0.234,"y":-2.15},{"i":38,"x":0.33,"y":-1.65},{"i":38,"x":0.35,"y":-1.3},{"i":38,"x":0.347,"y":-1.16},{"i":38,"x":0.356,"y":-0.955},{"i":38,"x":0.385,"y":-0.65},{"i":38,"x":0.45,"y":-0.46},{"i":38,"x":0.38,"y":-0.305},{"i":38,"x":0.24,"y":-0.45},{"i":38,"x":0.12,"y":-0.61},{"i":38,"x":0,"y":-0.81},{"i":38,"x":-0.07,"y":-1.1},
{"i":37,"x":0.273,"y":-2.15},{"i":37,"x":0.37,"y":-1.6},{"i":37,"x":0.385,"y":-1.3},{"i":37,"x":0.38,"y":-1.16},{"i":37,"x":0.404,"y":-0.895},{"i":37,"x":0.46,"y":-0.59},{"i":37,"x":0.5,"y":-0.47},{"i":37,"x":0.525,"y":-0.305},{"i":37,"x":0.45,"y":-0.22},{"i":37,"x":0.336,"y":-0.245},{"i":37,"x":0.23,"y":-0.305},{"i":37,"x":0.113,"y":-0.47},{"i":37,"x":0,"y":-0.69},{"i":37,"x":-0.07,"y":-1.0},
{"i":36,"x":0.305,"y":-2.15},{"i":36,"x":0.39,"y":-1.6},{"i":36,"x":0.41,"y":-1.3},{"i":36,"x":0.414,"y":-1.16},{"i":36,"x":0.44,"y":-0.75},{"i":36,"x":0.54,"y":-0.51},{"i":36,"x":0.58,"y":-0.305},{"i":36,"x":0.51,"y":-0.18},{"i":36,"x":0.45,"y":-0.14},{"i":36,"x":0.317,"y":-0.16},{"i":36,"x":0.19,"y":-0.245},{"i":36,"x":0.094,"y":-0.37},{"i":36,"x":0,"y":-0.57},{"i":36,"x":-0.07,"y":-0.88},
{"i":35,"x":0.33,"y":-2.16},{"i":35,"x":0.41,"y":-1.6},{"i":35,"x":0.43,"y":-1.3},{"i":35,"x":0.43,"y":-1.16},{"i":35,"x":0.45,"y":-0.955},{"i":35,"x":0.49,"y":-0.67},{"i":35,"x":0.58,"y":-0.47},{"i":35,"x":0.63,"y":-0.305},{"i":35,"x":0.6,"y":-0.16},{"i":35,"x":0.52,"y":-0.09},{"i":35,"x":0.43,"y":-0.08},{"i":35,"x":0.288,"y":-0.09},{"i":35,"x":0.16,"y":-0.16},{"i":35,"x":0.074,"y":-0.305},{"i":35,"x":0,"y":-0.47},{"i":35,"x":-0.07,"y":-0.73},
{"i":34,"x":0.355,"y":-2.18},{"i":34,"x":0.39,"y":-1.85},{"i":34,"x":0.43,"y":-1.55},{"i":34,"x":0.47,"y":-1.16},{"i":34,"x":0.48,"y":-1.0},{"i":34,"x":0.51,"y":-0.69},{"i":34,"x":0.58,"y":-0.53},{"i":34,"x":0.665,"y":-0.33},{"i":34,"x":0.695,"y":-0.18},{"i":34,"x":0.75,"y":-0.04},{"i":34,"x":1.04,"y":-0.01},{"i":34,"x":1.27,"y":-0.01},{"i":34,"x":1.36,"y":-0.07},{"i":34,"x":1.51,"y":-0.13},{"i":34,"x":1.62,"y":-0.01},{"i":34,"x":1.7,"y":0},{"i":34,"x":1.92,"y":-0.09},{"i":34,"x":2.0,"y":0},{"i":34,"x":1.93,"y":0.18},{"i":34,"x":1.7,"y":0.24},{"i":34,"x":1.56,"y":0.39},{"i":34,"x":1.49,"y":0.6},{"i":34,"x":1.46,"y":0.85},{"i":34,"x":1.4,"y":1.08},{"i":34,"x":1.34,"y":1.14},{"i":34,"x":1.27,"y":1.14},{"i":34,"x":1.11,"y":0.97},{"i":34,"x":0.85,"y":0.7},{"i":34,"x":0.72,"y":0.3},{"i":34,"x":0.68,"y":0},{"i":34,"x":0.48,"y":-0.03},{"i":34,"x":0.336,"y":-0.01},{"i":34,"x":0.17,"y":-0.03},{"i":34,"x":0.09,"y":-0.07},{"i":34,"x":0,"y":-0.29},{"i":34,"x":-0.05,"y":-0.42},
{"i":35.1,"x":0.82,"y":0.12},{"i":35.1,"x":0.895,"y":0.09},{"i":35.1,"x":1.11,"y":0.2},{"i":35.1,"x":1.19,"y":0.3},{"i":35.1,"x":1.22,"y":0.49},{"i":35.1,"x":1.2,"y":0.77},{"i":35.1,"x":1.11,"y":0.84},{"i":35.1,"x":0.995,"y":0.79},{"i":35.1,"x":0.86,"y":0.55},{"i":35.1,"x":0.78,"y":0.3},{"i":35.1,"x":0.82,"y":0.12},
{"i":36.1,"x":0.9,"y":0.28},{"i":36.1,"x":0.995,"y":0.28},{"i":36.1,"x":1.06,"y":0.46},{"i":36.1,"x":1.04,"y":0.54},{"i":36.1,"x":0.975,"y":0.59},{"i":36.1,"x":0.89,"y":0.47},{"i":36.1,"x":0.88,"y":0.33},{"i":36.1,"x":0.9,"y":0.28},
{"i":35.2,"x":-0.05,"y":0},{"i":35.2,"x":0.02,"y":0.16},{"i":35.2,"x":0.02,"y":0.41},{"i":35.2,"x":-0.03,"y":0.68},
{"i":36.2,"x":-0.055,"y":0.23},{"i":36.2,"x":-0.03,"y":0.35},{"i":36.2,"x":-0.05,"y":0.63},
{"i":33,"x":0.38,"y":-2.18},{"i":33,"x":0.42,"y":-1.85},{"i":33,"x":0.46,"y":-1.55},{"i":33,"x":0.51,"y":-1.16},{"i":33,"x":0.555,"y":-0.85},{"i":33,"x":0.62,"y":-0.6},{"i":33,"x":0.72,"y":-0.35},{"i":33,"x":0.82,"y":-0.2},{"i":33,"x":0.93,"y":-0.13},{"i":33,"x":1.04,"y":-0.14},{"i":33,"x":1.25,"y":-0.3},{"i":33,"x":1.36,"y":-0.49},{"i":33,"x":1.5,"y":-0.55},{"i":33,"x":1.73,"y":-0.67},{"i":33,"x":1.91,"y":-0.73},{"i":33,"x":2.07,"y":-0.64},
{"i":32,"x":0.405,"y":-2.17},{"i":32,"x":0.44,"y":-1.85},{"i":32,"x":0.49,"y":-1.55},{"i":32,"x":0.54,"y":-1.16},{"i":32,"x":0.64,"y":-0.62},{"i":32,"x":0.8,"y":-0.34},{"i":32,"x":0.95,"y":-0.24},{"i":32,"x":1.19,"y":-0.49},{"i":32,"x":1.36,"y":-0.62},{"i":32,"x":1.52,"y":-0.77},{"i":32,"x":1.73,"y":-0.95},{"i":32,"x":1.91,"y":-0.98},{"i":32,"x":2.07,"y":-0.91},
{"i":31,"x":0.43,"y":-2.17},{"i":31,"x":0.46,"y":-1.85},{"i":31,"x":0.52,"y":-1.55},{"i":31,"x":0.57,"y":-1.16},{"i":31,"x":0.66,"y":-0.72},{"i":31,"x":0.8,"y":-0.45},{"i":31,"x":0.95,"y":-0.35},{"i":31,"x":1.1,"y":-0.42},{"i":31,"x":1.3,"y":-0.7},{"i":31,"x":1.5,"y":-0.94},{"i":31,"x":1.73,"y":-1.11},{"i":31,"x":1.9,"y":-1.14},{"i":31,"x":2.07,"y":-1.1},
{"i":30,"x":0.455,"y":-2.17},{"i":30,"x":0.49,"y":-1.85},{"i":30,"x":0.54,"y":-1.55},{"i":30,"x":0.6,"y":-1.16},{"i":30,"x":0.68,"y":-0.82},{"i":30,"x":0.8,"y":-0.56},{"i":30,"x":0.95,"y":-0.47},{"i":30,"x":1.1,"y":-0.54},{"i":30,"x":1.3,"y":-0.8},{"i":30,"x":1.5,"y":-1.08},{"i":30,"x":1.7,"y":-1.25},{"i":30,"x":1.9,"y":-1.28},{"i":30,"x":2.07,"y":-1.25},
{"i":29,"x":0.48,"y":-2.17},{"i":29,"x":0.52,"y":-1.85},{"i":29,"x":0.57,"y":-1.55},{"i":29,"x":0.63,"y":-1.16},{"i":29,"x":0.7,"y":-0.9},{"i":29,"x":0.8,"y":-0.66},{"i":29,"x":0.95,"y":-0.57},{"i":29,"x":1.1,"y":-0.65},{"i":29,"x":1.3,"y":-0.92},{"i":29,"x":1.5,"y":-1.2},{"i":29,"x":1.7,"y":-1.36},{"i":29,"x":1.88,"y":-1.4},{"i":29,"x":2.07,"y":-1.38},
{"i":28,"x":0.505,"y":-2.16},{"i":28,"x":0.55,"y":-1.85},{"i":28,"x":0.6,"y":-1.5},{"i":28,"x":0.66,"y":-1.16},{"i":28,"x":0.8,"y":-0.77},{"i":28,"x":0.95,"y":-0.67},{"i":28,"x":1.1,"y":-0.76},{"i":28,"x":1.3,"y":-1.04},{"i":28,"x":1.5,"y":-1.32},{"i":28,"x":1.7,"y":-1.48},{"i":28,"x":1.85,"y":-1.52},{"i":28,"x":2.07,"y":-1.51},
{"i":27,"x":0.53,"y":-2.15},{"i":27,"x":0.58,"y":-1.85},{"i":27,"x":0.64,"y":-1.5},{"i":27,"x":0.7,"y":-1.16},{"i":27,"x":0.8,"y":-0.88},{"i":27,"x":0.95,"y":-0.8},{"i":27,"x":1.1,"y":-0.9},{"i":27,"x":1.3,"y":-1.16},{"i":27,"x":1.5,"y":-1.44},{"i":27,"x":1.7,"y":-1.6},{"i":27,"x":1.85,"y":-1.63},{"i":27,"x":2.07,"y":-1.63},
{"i":26,"x":0.56,"y":-2.14},{"i":26,"x":0.62,"y":-1.85},{"i":26,"x":0.68,"y":-1.5},{"i":26,"x":0.74,"y":-1.16},{"i":26,"x":0.82,"y":-1.0},{"i":26,"x":0.95,"y":-0.94},{"i":26,"x":1.12,"y":-1.03},{"i":26,"x":1.3,"y":-1.3},{"i":26,"x":1.5,"y":-1.56},{"i":26,"x":1.7,"y":-1.7},{"i":26,"x":1.85,"y":-1.74},{"i":26,"x":2.07,"y":-1.75},
{"i":25,"x":0.6,"y":-2.12},{"i":25,"x":0.66,"y":-1.85},{"i":25,"x":0.72,"y":-1.5},{"i":25,"x":0.82,"y":-1.2},{"i":25,"x":0.95,"y":-1.15},{"i":25,"x":1.12,"y":-1.2},{"i":25,"x":1.3,"y":-1.42},{"i":25,"x":1.5,"y":-1.67},{"i":25,"x":1.7,"y":-1.81},{"i":25,"x":1.85,"y":-1.85},{"i":25,"x":2.07,"y":-1.87},
{"i":24,"x":0.63,"y":-2.1},{"i":24,"x":0.68,"y":-1.85},{"i":24,"x":0.74,"y":-1.6},{"i":24,"x":0.82,"y":-1.35},{"i":24,"x":0.95,"y":-1.26},{"i":24,"x":1.12,"y":-1.32},{"i":24,"x":1.3,"y":-1.54},{"i":24,"x":1.5,"y":-1.79},{"i":24,"x":1.7,"y":-1.93},{"i":24,"x":1.85,"y":-1.96},{"i":24,"x":2.07,"y":-1.99},
{"i":3.5,"x":1.03,"y":-2.05},{"i":3.5,"x":1.03,"y":-2.0},
{"i":33.3,"x":-0.05,"y":0.79},{"i":33.3,"x":0,"y":0.73},{"i":33.3,"x":0.055,"y":0.26},{"i":33.3,"x":0.13,"y":0.12},{"i":33.3,"x":0.24,"y":0.06},{"i":33.3,"x":0.385,"y":0.05},{"i":33.3,"x":0.5,"y":0.05},{"i":33.3,"x":0.62,"y":0.12},{"i":33.3,"x":0.675,"y":0.26},{"i":33.3,"x":0.8,"y":0.6},{"i":33.3,"x":1.0,"y":1.02},{"i":33.3,"x":1.19,"y":1.29},{"i":33.3,"x":1.335,"y":1.455},{"i":33.3,"x":1.41,"y":1.43},{"i":33.3,"x":1.48,"y":1.34},{"i":33.3,"x":1.68,"y":0.89},{"i":33.3,"x":2.07,"y":0.51},
{"i":32.3,"x":-0.05,"y":0.82},{"i":32.3,"x":0.09,"y":0.34},{"i":32.3,"x":0.2,"y":0.2},{"i":32.3,"x":0.385,"y":0.12},{"i":32.3,"x":0.5,"y":0.13},{"i":32.3,"x":0.62,"y":0.24},{"i":32.3,"x":0.8,"y":0.72},{"i":32.3,"x":1.0,"y":1.14},{"i":32.3,"x":1.2,"y":1.55},{"i":32.3,"x":1.4,"y":1.7},{"i":32.3,"x":1.5,"y":1.6},{"i":32.3,"x":1.7,"y":1.25},{"i":32.3,"x":2.07,"y":0.78},
{"i":31.3,"x":-0.05,"y":0.85},{"i":31.3,"x":0.1,"y":0.42},{"i":31.3,"x":0.22,"y":0.26},{"i":31.3,"x":0.385,"y":0.18},{"i":31.3,"x":0.5,"y":0.2},{"i":31.3,"x":0.62,"y":0.33},{"i":31.3,"x":0.8,"y":0.83},{"i":31.3,"x":1.0,"y":1.26},{"i":31.3,"x":1.2,"y":1.68},{"i":31.3,"x":1.44,"y":1.87},{"i":31.3,"x":1.53,"y":1.8},{"i":31.3,"x":1.75,"y":1.35},{"i":31.3,"x":2.07,"y":0.99},
{"i":30.3,"x":-0.05,"y":0.88},{"i":30.3,"x":0.12,"y":0.48},{"i":30.3,"x":0.24,"y":0.33},{"i":30.3,"x":0.385,"y":0.25},{"i":30.3,"x":0.5,"y":0.27},{"i":30.3,"x":0.62,"y":0.42},{"i":30.3,"x":0.8,"y":0.94},{"i":30.3,"x":1.0,"y":1.38},{"i":30.3,"x":1.2,"y":1.8},{"i":30.3,"x":1.47,"y":1.99},{"i":30.3,"x":1.6,"y":1.85},{"i":30.3,"x":1.78,"y":1.65},{"i":30.3,"x":2.06,"y":1.18},
{"i":29.3,"x":-0.05,"y":0.91},{"i":29.3,"x":0.13,"y":0.55},{"i":29.3,"x":0.26,"y":0.41},{"i":29.3,"x":0.385,"y":0.335},{"i":29.3,"x":0.5,"y":0.35},{"i":29.3,"x":0.62,"y":0.52},{"i":29.3,"x":0.8,"y":1.05},{"i":29.3,"x":1.0,"y":1.5},{"i":29.3,"x":1.2,"y":1.92},{"i":29.3,"x":1.5,"y":2.11},{"i":29.3,"x":1.65,"y":1.95},{"i":29.3,"x":1.83,"y":1.75},{"i":29.3,"x":2.06,"y":1.36},
{"i":28.3,"x":-0.05,"y":0.94},{"i":28.3,"x":0.15,"y":0.62},{"i":28.3,"x":0.28,"y":0.47},{"i":28.3,"x":0.385,"y":0.395},{"i":28.3,"x":0.5,"y":0.42},{"i":28.3,"x":0.62,"y":0.62},{"i":28.3,"x":0.8,"y":1.15},{"i":28.3,"x":1.0,"y":1.62},{"i":28.3,"x":1.2,"y":2.03},{"i":28.3,"x":1.52,"y":2.23},{"i":28.3,"x":1.7,"y":2.1},{"i":28.3,"x":1.9,"y":1.75},{"i":28.3,"x":2.05,"y":1.56},
{"i":27.3,"x":-0.045,"y":0.97},{"i":27.3,"x":0.16,"y":0.68},{"i":27.3,"x":0.29,"y":0.53},{"i":27.3,"x":0.385,"y":0.47},{"i":27.3,"x":0.5,"y":0.5},{"i":27.3,"x":0.62,"y":0.72},{"i":27.3,"x":0.8,"y":1.25},{"i":27.3,"x":1.0,"y":1.73},{"i":27.3,"x":1.2,"y":2.14},{"i":27.3,"x":1.37,"y":2.27},
{"i":27.4,"x":1.74,"y":2.27},{"i":27.4,"x":2.05,"y":1.8},
{"i":26.3,"x":-0.045,"y":1.0},{"i":26.3,"x":0.18,"y":0.72},{"i":26.3,"x":0.3,"y":0.58},{"i":26.3,"x":0.385,"y":0.53},{"i":26.3,"x":0.5,"y":0.57},{"i":26.3,"x":0.62,"y":0.82},{"i":26.3,"x":0.8,"y":1.36},{"i":26.3,"x":1.0,"y":1.84},{"i":26.3,"x":1.28,"y":2.27},
{"i":26.4,"x":1.92,"y":2.25},{"i":26.4,"x":2.05,"y":2.04},
{"i":25.3,"x":-0.04,"y":1.03},{"i":25.3,"x":0.19,"y":0.76},{"i":25.3,"x":0.3,"y":0.64},{"i":25.3,"x":0.385,"y":0.6},{"i":25.3,"x":0.5,"y":0.64},{"i":25.3,"x":0.62,"y":0.9},{"i":25.3,"x":0.8,"y":1.45},{"i":25.3,"x":1.0,"y":1.95},{"i":25.3,"x":1.22,"y":2.26},
{"i":24.3,"x":-0.04,"y":1.06},{"i":24.3,"x":0.2,"y":0.8},{"i":24.3,"x":0.31,"y":0.7},{"i":24.3,"x":0.385,"y":0.66},{"i":24.3,"x":0.5,"y":0.71},{"i":24.3,"x":0.62,"y":0.97},{"i":24.3,"x":0.8,"y":1.53},{"i":24.3,"x":1.0,"y":2.05},{"i":24.3,"x":1.17,"y":2.25},
{"i":6,"x":0.0,"y":2.05},{"i":6,"x":0.06,"y":1.75},{"i":6,"x":0.156,"y":1.58},{"i":6,"x":0.27,"y":1.56},{"i":6,"x":0.41,"y":1.64},{"i":6,"x":0.595,"y":1.96},{"i":6,"x":0.595,"y":2.18},
{"i":5,"x":0.06,"y":2.17},{"i":5,"x":0.08,"y":1.85},{"i":5,"x":0.175,"y":1.66},{"i":5,"x":0.27,"y":1.64},{"i":5,"x":0.41,"y":1.71},{"i":5,"x":0.546,"y":1.94},{"i":5,"x":0.546,"y":2.17},
{"i":4,"x":0.12,"y":2.17},{"i":4,"x":0.135,"y":1.9},{"i":4,"x":0.21,"y":1.75},{"i":4,"x":0.29,"y":1.72},{"i":4,"x":0.39,"y":1.77},{"i":4,"x":0.49,"y":1.96},{"i":4,"x":0.49,"y":2.17},
{"i":3,"x":0.21,"y":2.17},{"i":3,"x":0.19,"y":2.01},{"i":3,"x":0.23,"y":1.87},{"i":3,"x":0.29,"y":1.83},{"i":3,"x":0.36,"y":1.87},{"i":3,"x":0.43,"y":2.01},{"i":3,"x":0.41,"y":2.17}
]},
"hconcat":[
{"width":782,"height":1275,
"encoding":{"x":{"field":"x","type":"quantitative","scale":{"domain":[-0.134,2.14],"nice":false,"zero":false},"axis":{"orient":"top","offset":-228,"values":[0,0.5,1,1.5,2],"format":".1f","labelFontSize":46,"tickSize":15,"tickWidth":3,"domainWidth":4,"labelPadding":8,"labelFlush":false,"title":"Distance from flare, ℓ","titleFontSize":60,"titleFontWeight":"normal","titlePadding":42}},
"y":{"field":"y","type":"quantitative","scale":{"domain":[5.98,-5.69],"nice":false,"zero":false},"axis":{"domain":false,"values":[-3,-2,-1,0,1,2,3],"labelExpr":"replace(format(datum.value,'d'),'-','−')","labelFontSize":46,"labelAlign":"center","labelBaseline":"middle","labelOffset":23,"labelPadding":53,"tickSize":15,"tickWidth":3,"title":"Amplitude mode 1, 𝐴₁ (mm)","titleFontSize":59,"titleFontWeight":"normal","titleY":613,"titleX":-112}}},
"layer":[
{"data":{"values":[{"x":-0.134,"x2":2.14,"y":-3.596,"y2":3.577}]},"mark":{"type":"rect","fill":"#f5f5f5"},"encoding":{"x2":{"field":"x2"},"y2":{"field":"y2"}}},
{"data":{"values":[{"x":-0.238,"y":3.925,"y2":3.925},{"x":-0.134,"y":3.925,"y2":3.577},{"x":2.14,"y":3.925,"y2":3.577},{"x":2.25,"y":3.925,"y2":3.925}]},"mark":{"type":"area","fill":"#f8f8f8","orient":"vertical"},"encoding":{"y2":{"field":"y2"}}},
{"data":{"values":[{"x":2.14,"y":3.577,"y2":-3.596},{"x":2.25,"y":3.925,"y2":-3.95}]},"mark":{"type":"area","fill":"#f0f0f0","orient":"vertical"},"encoding":{"y2":{"field":"y2"}}},
{"data":{"values":[{"x":0,"y":-3.596,"x2":0,"y2":3.577},{"x":0.5,"y":-3.596,"x2":0.5,"y2":3.577},{"x":1,"y":-3.596,"x2":1,"y2":3.577},{"x":1.5,"y":-3.596,"x2":1.5,"y2":3.577},{"x":2,"y":-3.596,"x2":2,"y2":3.577},{"x":0,"y":3.577,"x2":-0.097,"y2":3.925},{"x":0.5,"y":3.577,"x2":0.45,"y2":3.925},{"x":1,"y":3.577,"x2":1,"y2":3.925},{"x":1.5,"y":3.577,"x2":1.547,"y2":3.925},{"x":2,"y":3.577,"x2":2.09,"y2":3.925},{"x":-0.134,"y":-3,"x2":2.14,"y2":-3},{"x":-0.134,"y":-2,"x2":2.14,"y2":-2},{"x":-0.134,"y":-1,"x2":2.14,"y2":-1},{"x":-0.134,"y":0,"x2":2.14,"y2":0},{"x":-0.134,"y":1,"x2":2.14,"y2":1},{"x":-0.134,"y":2,"x2":2.14,"y2":2},{"x":-0.134,"y":3,"x2":2.14,"y2":3},{"x":2.14,"y":-3,"x2":2.25,"y2":-3.29},{"x":2.14,"y":-2,"x2":2.25,"y2":-2.2},{"x":2.14,"y":-1,"x2":2.25,"y2":-1.1},{"x":2.14,"y":0,"x2":2.25,"y2":0},{"x":2.14,"y":1,"x2":2.25,"y2":1.1},{"x":2.14,"y":2,"x2":2.25,"y2":2.19},{"x":2.14,"y":3,"x2":2.25,"y2":3.29}]},"mark":{"type":"rule","stroke":"#b0b0b0","strokeWidth":3},"encoding":{"x2":{"field":"x2"},"y2":{"field":"y2"}}},
{"data":{"values":[{"x":-0.134,"y":-3.596,"x2":-0.134,"y2":3.577},{"x":2.14,"y":-3.596,"x2":2.25,"y2":-3.95},{"x":-0.134,"y":-3,"x2":-0.108,"y2":-3},{"x":-0.134,"y":-2,"x2":-0.108,"y2":-2},{"x":-0.134,"y":-1,"x2":-0.108,"y2":-1},{"x":-0.134,"y":0,"x2":-0.108,"y2":0},{"x":-0.134,"y":1,"x2":-0.108,"y2":1},{"x":-0.134,"y":2,"x2":-0.108,"y2":2},{"x":-0.134,"y":3,"x2":-0.108,"y2":3}]},"mark":{"type":"rule","stroke":"black","strokeWidth":3},"encoding":{"x2":{"field":"x2"},"y2":{"field":"y2"}}},
{"data":{"name":"aThick"},"mark":{"type":"line","strokeWidth":11,"order":false},"encoding":{"detail":{"field":"i"},"color":{"field":"i","type":"quantitative","legend":null,"scale":{"scheme":"viridis","domain":[0,49]}}}},
{"data":{"name":"aThin"},"mark":{"type":"line","strokeWidth":7,"order":false},"encoding":{"detail":{"field":"i"},"color":{"field":"i","type":"quantitative","legend":null,"scale":{"scheme":"viridis","domain":[0,49]}}}},
{"data":{"values":[{"x":0.5,"y":-3.596,"y2":3.577},{"x":1.49,"y":-3.596,"y2":3.577}]},"mark":{"type":"rule","stroke":"black","strokeWidth":12,"strokeDash":[46,36]},"encoding":{"y2":{"field":"y2"}}},
{"data":{"values":[{"x":1.532,"y":7.475,"t":"("},{"x":1.762,"y":7.475,"t":")"}]},"mark":{"type":"text","font":"Liberation Serif","fontSize":86,"baseline":"alphabetic","color":"black"},"encoding":{"text":{"field":"t"}}},
{"data":{"values":[{"x":1.651,"y":7.475,"t":"a"}]},"mark":{"type":"text","font":"Liberation Serif","fontSize":84,"fontWeight":"bold","baseline":"alphabetic","color":"black"},"encoding":{"text":{"field":"t"}}}
]},
{"width":433,"height":1275,"data":{"values":[{"v":0}]},"mark":{"type":"point","opacity":0},"encoding":{}},
{"width":63,"height":1275,"view":{"stroke":"black","strokeWidth":4},"data":{"name":"levels"},"mark":{"type":"rule","strokeWidth":7},"encoding":{"y":{"field":"l","type":"quantitative","scale":{"domain":[0.85,0.98],"nice":false,"zero":false},"axis":{"orient":"right","values":[0.85,0.8633,0.8765,0.8898,0.9031,0.9163,0.9296,0.9429,0.9561,0.9694],"format":".4f","labelFontSize":48,"tickSize":18,"tickWidth":3,"labelPadding":18,"domain":false,"title":null}},"color":{"field":"l","type":"quantitative","legend":null,"scale":{"scheme":"viridis","domain":[0.85,0.98]}}}},
{"width":641,"height":1275,"data":{"values":[{"v":0}]},"mark":{"type":"point","opacity":0},"encoding":{}},
{"width":782,"height":1275,
"encoding":{"x":{"field":"x","type":"quantitative","scale":{"domain":[-0.131,2.142],"nice":false,"zero":false},"axis":{"orient":"top","offset":-228,"values":[0,0.5,1,1.5,2],"format":".1f","labelFontSize":46,"tickSize":15,"tickWidth":3,"domainWidth":4,"labelPadding":8,"labelFlush":false,"title":"Distance from flare, ℓ","titleFontSize":60,"titleFontWeight":"normal","titlePadding":42}},
"y":{"field":"y","type":"quantitative","scale":{"domain":[4.073,-3.7],"nice":false,"zero":false},"axis":{"domain":false,"values":[-2,-1,0,1,2],"labelExpr":"replace(format(datum.value,'d'),'-','−')","labelFontSize":46,"labelAlign":"center","labelBaseline":"middle","labelOffset":23,"labelPadding":53,"tickSize":15,"tickWidth":3,"title":"Amplitude mode 2, 𝐴₂ (mm)","titleFontSize":59,"titleFontWeight":"normal","titleY":613,"titleX":-112}}},
"layer":[
{"data":{"values":[{"x":-0.131,"x2":2.142,"y":-2.305,"y2":2.476}]},"mark":{"type":"rect","fill":"#f5f5f5"},"encoding":{"x2":{"field":"x2"},"y2":{"field":"y2"}}},
{"data":{"values":[{"x":-0.241,"y":2.707,"y2":2.707},{"x":-0.131,"y":2.707,"y2":2.476},{"x":2.142,"y":2.707,"y2":2.476},{"x":2.256,"y":2.707,"y2":2.707}]},"mark":{"type":"area","fill":"#f8f8f8","orient":"vertical"},"encoding":{"y2":{"field":"y2"}}},
{"data":{"values":[{"x":2.142,"y":2.476,"y2":-2.305},{"x":2.256,"y":2.707,"y2":-2.543}]},"mark":{"type":"area","fill":"#f0f0f0","orient":"vertical"},"encoding":{"y2":{"field":"y2"}}},
{"data":{"values":[{"x":0,"y":-2.305,"x2":0,"y2":2.476},{"x":0.5,"y":-2.305,"x2":0.5,"y2":2.476},{"x":1,"y":-2.305,"x2":1,"y2":2.476},{"x":1.5,"y":-2.305,"x2":1.5,"y2":2.476},{"x":2,"y":-2.305,"x2":2,"y2":2.476},{"x":0,"y":2.476,"x2":-0.094,"y2":2.707},{"x":0.5,"y":2.476,"x2":0.45,"y2":2.707},{"x":1,"y":2.476,"x2":1,"y2":2.707},{"x":1.5,"y":2.476,"x2":1.55,"y2":2.707},{"x":2,"y":2.476,"x2":2.096,"y2":2.707},{"x":-0.131,"y":-2,"x2":2.142,"y2":-2},{"x":-0.131,"y":-1,"x2":2.142,"y2":-1},{"x":-0.131,"y":0,"x2":2.142,"y2":0},{"x":-0.131,"y":1,"x2":2.142,"y2":1},{"x":-0.131,"y":2,"x2":2.142,"y2":2},{"x":2.142,"y":-2,"x2":2.256,"y2":-2.19},{"x":2.142,"y":-1,"x2":2.256,"y2":-1.08},{"x":2.142,"y":0,"x2":2.256,"y2":0},{"x":2.142,"y":1,"x2":2.256,"y2":1.09},{"x":2.142,"y":2,"x2":2.256,"y2":2.15}]},"mark":{"type":"rule","stroke":"#b0b0b0","strokeWidth":3},"encoding":{"x2":{"field":"x2"},"y2":{"field":"y2"}}},
{"data":{"values":[{"x":-0.131,"y":-2.305,"x2":-0.131,"y2":2.476},{"x":2.142,"y":-2.305,"x2":2.256,"y2":-2.543},{"x":-0.131,"y":-2,"x2":-0.105,"y2":-2},{"x":-0.131,"y":-1,"x2":-0.105,"y2":-1},{"x":-0.131,"y":0,"x2":-0.105,"y2":0},{"x":-0.131,"y":1,"x2":-0.105,"y2":1},{"x":-0.131,"y":2,"x2":-0.105,"y2":2}]},"mark":{"type":"rule","stroke":"black","strokeWidth":3},"encoding":{"x2":{"field":"x2"},"y2":{"field":"y2"}}},
{"data":{"name":"bThick"},"mark":{"type":"line","strokeWidth":11,"order":false},"encoding":{"detail":{"field":"i"},"color":{"field":"i","type":"quantitative","legend":null,"scale":{"scheme":"viridis","domain":[0,49]}}}},
{"data":{"name":"bThin"},"mark":{"type":"line","strokeWidth":7,"order":false},"encoding":{"detail":{"field":"i"},"color":{"field":"i","type":"quantitative","legend":null,"scale":{"scheme":"viridis","domain":[0,49]}}}},
{"data":{"values":[{"x":0.489,"y":-2.305,"y2":2.476},{"x":1.495,"y":-2.305,"y2":2.476}]},"mark":{"type":"rule","stroke":"black","strokeWidth":12,"strokeDash":[46,36]},"encoding":{"y2":{"field":"y2"}}},
{"data":{"values":[{"x":1.535,"y":5.073,"t":"("},{"x":1.756,"y":5.073,"t":")"}]},"mark":{"type":"text","font":"Liberation Serif","fontSize":86,"baseline":"alphabetic","color":"black"},"encoding":{"text":{"field":"t"}}},
{"data":{"values":[{"x":1.65,"y":5.073,"t":"b"}]},"mark":{"type":"text","font":"Liberation Serif","fontSize":84,"fontWeight":"bold","baseline":"alphabetic","color":"black"},"encoding":{"text":{"field":"t"}}}
]},
{"width":433,"height":1275,"data":{"values":[{"v":0}]},"mark":{"type":"point","opacity":0},"encoding":{}},
{"width":63,"height":1275,"view":{"stroke":"black","strokeWidth":4},"data":{"name":"levels"},"mark":{"type":"rule","strokeWidth":7},"encoding":{"y":{"field":"l","type":"quantitative","scale":{"domain":[0.85,0.98],"nice":false,"zero":false},"axis":{"orient":"right","values":[0.85,0.8633,0.8765,0.8898,0.9031,0.9163,0.9296,0.9429,0.9561,0.9694],"format":".4f","labelFontSize":48,"tickSize":18,"tickWidth":3,"labelPadding":18,"domain":false,"title":null}},"color":{"field":"l","type":"quantitative","legend":null,"scale":{"scheme":"viridis","domain":[0.85,0.98]}}}}
]}
